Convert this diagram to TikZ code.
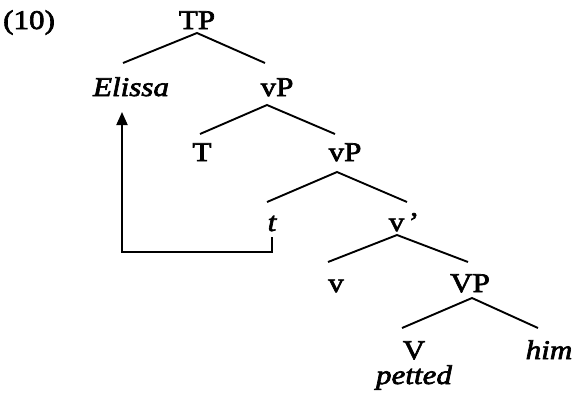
\documentclass[tikz,border=0pt]{standalone}
\usepackage{fontspec}
\setmainfont{Liberation Serif}[FakeStretch=1.15,FakeBold=2.5]
\usetikzlibrary{arrows.meta}
\tikzset{
  lbl/.style={anchor=base,inner sep=0pt,font=\fontsize{27}{31}\selectfont},
  br/.style={line width=1.9pt},
  mv/.style={line width=1.9pt,-{Triangle[length=13pt,width=11pt]}}
}
\begin{document}
\begin{tikzpicture}[x=1pt,y=-1pt]
\useasboundingbox (0,0) rectangle (577,399);
\node[lbl,anchor=base west] (ex) at (3,29) {(10)};
\node[lbl] (TP) at (197,29) {TP};
\node[lbl] (Elissa) at (131,96) {\itshape Elissa};
\node[lbl] (vP1) at (277,96) {vP};
\node[lbl] (T) at (202,161) {T};
\node[lbl] (vP2) at (345,161) {vP};
\node[lbl] (t) at (272,231) {\itshape t};
\node[lbl] (vbar) at (404,231) {v\,\char"0027};
\node[lbl] (v) at (336,292) {v};
\node[lbl] (VP) at (470,292) {VP};
\node[lbl] (V) at (414,359) {V};
\node[lbl] (him) at (549,359) {\itshape him};
\node[lbl] (petted) at (414,384) {\itshape petted};
% branches
\draw[br] ([shift={(-8,-33)}]Elissa.base) -- ([shift={(0,4)}]TP.base) -- ([shift={(-12,-33)}]vP1.base);
\draw[br] ([shift={(-2,-27)}]T.base) -- ([shift={(-10,9)}]vP1.base) -- ([shift={(-10,-27)}]vP2.base);
\draw[br] ([shift={(-5,-29)}]t.base) -- ([shift={(-8,11)}]vP2.base) -- ([shift={(3,-29)}]vbar.base);
\draw[br] ([shift={(-8,-30)}]v.base) -- ([shift={(-7,4)}]vbar.base) -- ([shift={(-2,-30)}]VP.base);
\draw[br] ([shift={(-12,-31)}]V.base) -- ([shift={(2,6)}]VP.base) -- ([shift={(-11,-31)}]him.base);
% movement arrow
\draw[mv] ([shift={(0,6)}]t.base) -- ++(0,15) -| ([shift={(-9,16)}]Elissa.base);
\end{tikzpicture}
\end{document}
